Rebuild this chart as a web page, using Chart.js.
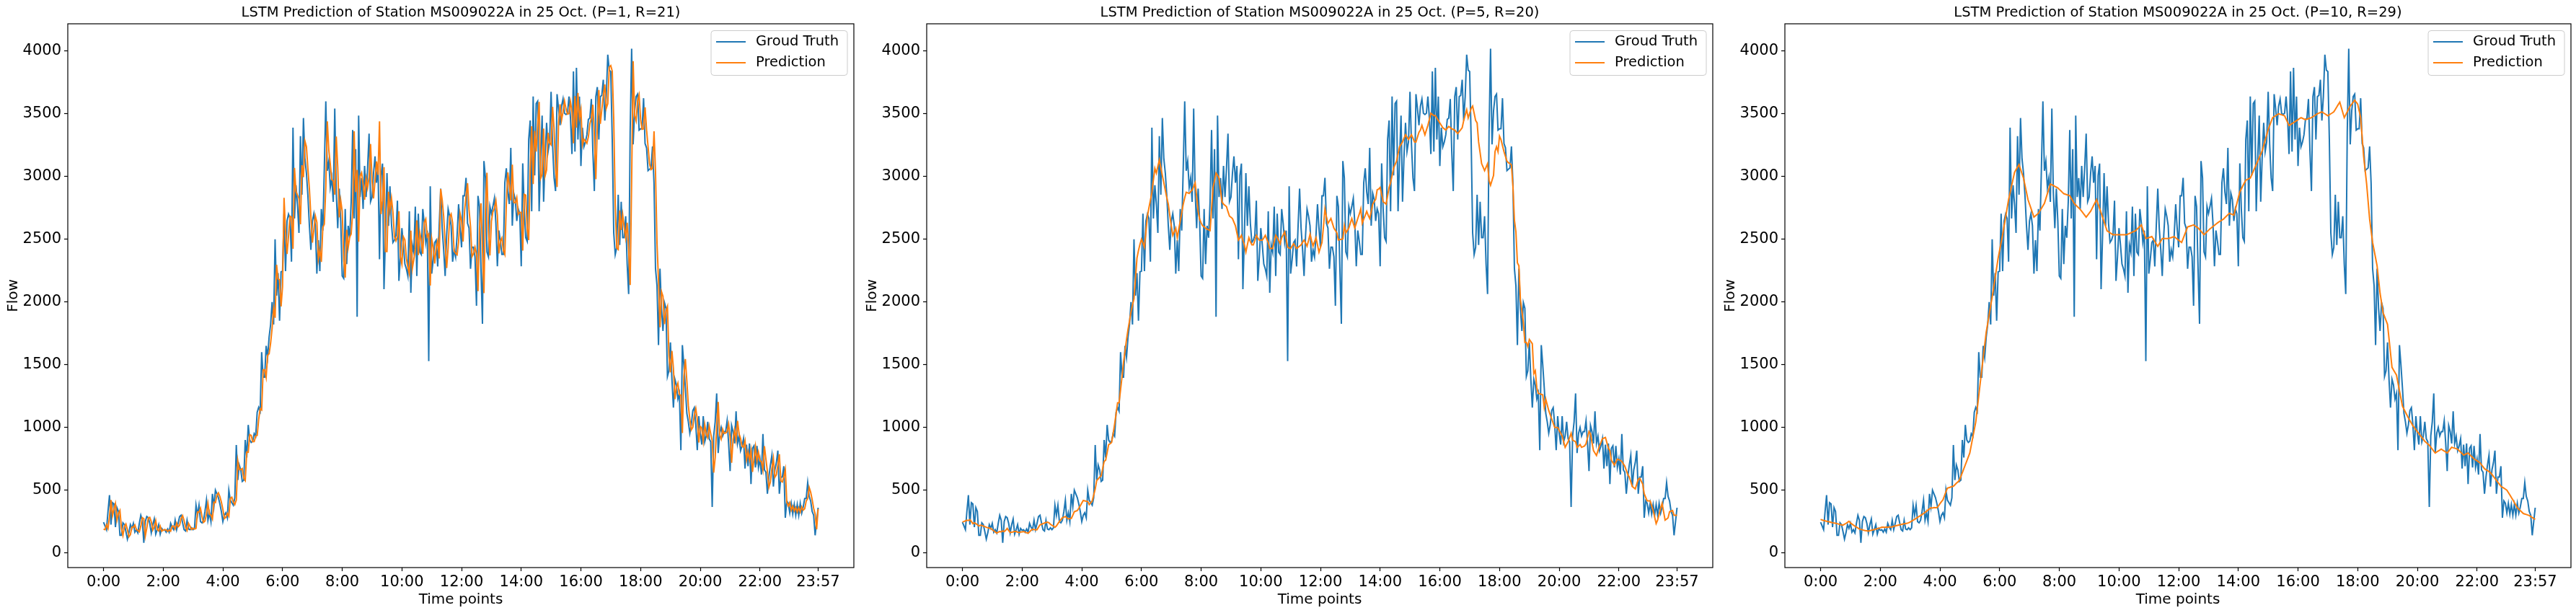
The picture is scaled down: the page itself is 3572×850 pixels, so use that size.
<!DOCTYPE html>
<html>
<head>
<meta charset="utf-8">
<script src="https://cdn.jsdelivr.net/npm/chart.js@4.4.1/dist/chart.umd.min.js"></script>
<style>
  body { margin: 0; background: #fff; }
  .panel { position: absolute; top: 0; width: 1191px; height: 850px; }
</style>
</head>
<body>
<div class="panel" style="left:0px"><canvas id="c1" width="1191" height="850"></canvas></div>
<div class="panel" style="left:1191px"><canvas id="c2" width="1191" height="850"></canvas></div>
<div class="panel" style="left:2381px"><canvas id="c3" width="1191" height="850"></canvas></div>
<script>
// flow every 3 minutes, 0:00 .. 23:57 (480 points)
const groundTruth = [
  245,215,185,330,460,225,400,390,205,360, 330,140,140,240,225,170,110,160,225,195,
  235,165,185,160,235,300,260,80,250,290, 280,235,160,225,270,150,185,225,150,195,
  180,185,165,190,165,235,205,185,260,185, 235,290,300,240,185,175,260,190,185,200,
  185,200,380,300,380,250,240,260,330,420, 260,320,250,470,370,500,470,440,390,330,
  250,300,320,280,500,420,400,380,440,860, 580,700,660,570,580,900,760,1020,900,880,
  890,950,930,1120,1160,1130,1600,1400,1400,1650, 1560,1720,1820,2000,1820,2500,2050,2230,1850,2240,
  2245,2703,2245,2645,2700,2665,2321,3389,2665,2931, 2779,2550,3322,2855,3466,3141,3027,2846,2607,2416,
  2645,2703,2607,2226,2493,2245,2741,2569,3065,3599, 3046,3122,2912,2988,2798,3542,2874,2588,2903,2645,
  2207,2188,2741,2302,2607,2512,2798,3370,2665,3218, 1882,3485,2836,2988,2741,3084,2836,3065,3342,2800,
  2836,3027,3160,2950,3084,2340,3008,3103,2102,2531, 3027,2607,2922,2626,2474,2493,2531,2807,2168,2359,
  2588,2455,2302,2264,2207,2722,2073,2455,2397,2760, 2207,2703,2397,2378,2741,2626,2474,2569,1529,2922,
  2226,2340,2474,2493,2283,2607,2903,2588,2417,2207, 2531,2741,2684,2607,2321,2417,2359,2531,2779,2588,
  2436,2846,2846,2990,2627,2589,2265,2436,2436,2360, 1969,2846,2761,2265,1826,3123,2990,2398,2360,2761,
  2703,2761,2827,2627,2284,2570,2484,2379,2379,2951, 3066,2875,2780,3228,2608,2866,2818,2646,2742,2703,
  2284,3104,2742,2513,2484,3295,3447,2722,3638,3009, 3581,3600,2722,3142,3485,2799,3161,3428,3199,3276,
  3675,3256,2989,2884,3656,3542,3408,3561,3618,3504, 3494,3504,3637,3466,3179,3837,3198,3866,3294,3637,
  3084,3389,3237,3275,3332,3456,3466,3618,3198,2884, 3637,3713,3294,3637,3647,3771,3446,3637,3971,3847,
  3837,3294,2550,2378,2435,2855,2454,2798,2512,2512, 2683,2302,2063,3351,4019,3256,3523,3637,3656,3370,
  3380,3380,3624,3262,3228,3047,3058,3069,3239,2945, 2266,2130,1656,2266,1950,1769,1995,1950,1407,1452,
  1678,1384,1158,1384,1339,1226,1271,819,1656,1497, 1316,1113,1045,954,1022,1135,1158,1022,819,1090,
  954,864,1090,886,932,1045,909,886,366,932, 1045,1271,796,954,1000,932,966,966,1053,872,
  652,1015,967,872,1129,872,929,815,853,910, 672,862,691,872,548,834,853,681,853,681,
  748,624,948,662,643,471,605,700,777,529, 662,719,815,471,605,605,691,280,414,395,
  318,395,309,385,300,385,300,395,318,366, 433,433,560,450,414,330,300,140,250,360
];

const predictionP1 = [
  190,185,224,194,287,421,296,348,393,261, 314,339,197,140,210,230,187,128,145,206,
  204,223,186,179,168,213,281,272,134,199, 278,283,249,183,206,257,186,175,213,173,
  182,185,184,171,183,173,214,214,191,238, 208,220,274,297,258,202,178,235,211,187,
  196,190,196,326,324,356,289,243,254,309, 393,308,302,271,404,400,461,479,449,405,
  348,274,285,314,292,434,444,406,386,422, 734,664,664,672,597,577,804,802,942,936,
  886,887,932,936,1063,1148,1139,1459,1460,1400, 1575,1587,1672,1790,1946,1874,2296,2185,2176,1964,
  2123,2830,2566,2382,2525,2684,2676,2424,3069,2882, 2851,2825,2619,3090,2995,3283,3239,3061,2900,2679,
  2473,2576,2686,2636,2340,2413,2319,2592,2621,2916, 3439,3212,3099,2975,2965,2855,3319,3074,2674,2809,
  2722,2338,2194,2575,2434,2516,2541,2712,3360,2877, 3052,2480,3004,3031,2942,2815,2981,2910,2996,3259,
  2963,2825,2970,3120,3013,3440,2700,2808,3075,2402, 2402,2878,2733,2828,2715,2520,2487,2520,2724,2360,
  2302,2519,2495,2348,2275,2224,2568,2268,2340,2414, 2651,2373,2554,2489,2384,2632,2661,2520,2541,2130,
  2504,2435,2306,2434,2487,2346,2900,2814,2683,2468, 2270,2434,2678,2701,2630,2407,2388,2376,2479,2705,
  2645,2482,2723,2846,2947,2736,2600,2362,2385,2436, 2383,2086,2583,2787,2414,2070,2734,3030,2576,2371,
  2641,2720,2744,2807,2687,2387,2484,2510,2411,2379, 2779,3032,2932,2809,3094,2794,2789,2832,2698,2713,
  2715,2410,2858,2851,2582,2493,3052,3401,2940,3363, 3198,3409,3594,2985,3016,3382,3005,3052,3348,3268,
  3253,3555,3382,3069,2916,3424,3576,3448,3515,3601, 3538,3497,3501,3597,3517,3265,3640,3390,3666,3466,
  3534,3250,3298,3283,3264,3315,3419,3463,3572,3324, 2978,3411,3690,3420,3534,3644,3734,3544,3580,3871,
  3884,3840,3457,2773,2430,2418,2729,2574,2695,2598, 2512,2632,2416,2135,2965,3920,3485,3443,3603,3650,
  3456,3377,3380,3551,3371,3238,3101,3055,3066,3360, 3033,2470,2171,1798,2083,2045,1823,1927,1964,1570,
  1439,1610,1472,1226,1316,1353,1260,1258,955,1405, 1545,1370,1174,1065,981,1002,1101,1151,1063,880,
  1009,995,891,1022,947,918,1011,950,893,640, 762,1011,1203,939,907,986,952,956,966,1027,
  926,718,906,981,901,1052,949,912,849,842, 893,743,805,742,818,645,748,847,733,801,
  733,728,661,851,748,649,523,565,672,754, 603,622,702,786,574,565,605,665,403,374,
  401,341,372,335,362,326,360,326,367,341, 352,413,433,522,483,425,355,309,188,350
];

const predictionP5 = [
  246,250,255,261,258,265,250,233,240,233, 225,214,220,218,214,210,204,200,198,195,
  185,176,168,157,165,170,168,175,170,180, 195,178,162,165,168,172,170,165,162,166,
  168,170,165,160,157,168,180,189,186,184, 185,205,223,228,233,238,242,245,240,228,
  220,214,204,215,233,250,265,280,285,290, 280,271,274,275,300,328,333,337,356,376,
  398,418,415,412,410,385,400,414,460,509, 576,590,605,614,671,729,738,800,862,870,
  881,950,1024,1110,1196,1196,1300,1406,1520,1610, 1702,1780,1850,1921,1975,2026,2190,2350,2410,2460,
  2500,2470,2436,2560,2684,2750,2810,2874,2970,3065, 3027,3080,3132,3070,3008,2950,2890,2830,2779,2690,
  2607,2531,2560,2588,2512,2580,2645,2710,2779,2830, 2874,2870,2865,2880,2893,2920,2950,2840,2722,2660,
  2630,2607,2600,2588,2580,2575,2569,2740,2912,2970, 3027,3010,2988,2890,2798,2780,2770,2760,2720,2684,
  2675,2665,2636,2607,2550,2493,2510,2531,2490,2455, 2397,2455,2512,2480,2455,2455,2490,2531,2510,2493,
  2493,2493,2510,2531,2500,2474,2426,2426,2426,2480, 2531,2512,2490,2464,2512,2535,2559,2500,2436,2430,
  2426,2445,2464,2445,2426,2435,2445,2455,2475,2493, 2470,2445,2490,2541,2490,2445,2480,2512,2455,2397,
  2435,2474,2600,2741,2680,2627,2645,2665,2627,2589, 2570,2551,2494,2497,2500,2503,2608,2551,2570,2589,
  2627,2665,2627,2589,2627,2665,2700,2742,2627,2660, 2690,2722,2690,2665,2720,2780,2800,2818,2894,2900,
  2913,2856,2799,2790,2780,2846,2913,2951,3008,3066, 3095,3123,3180,3237,3256,3276,3305,3333,3314,3295,
  3314,3333,3305,3276,3275,3314,3352,3370,3408,3370, 3332,3370,3408,3456,3504,3494,3485,3485,3465,3446,
  3427,3408,3389,3380,3370,3385,3399,3390,3380,3375, 3370,3356,3342,3358,3373,3389,3446,3490,3532,3466,
  3504,3542,3561,3504,3446,3427,3275,3190,3103,3075, 3046,3074,3103,2970,2931,2970,3008,3198,3237,3198,
  3322,3294,3246,3198,3160,3122,3110,3103,3092,2922, 2651,2560,2312,2289,2017,1930,1837,1678,1678,1644,
  1701,1684,1667,1429,1452,1316,1271,1268,1264,1260, 1158,1226,1180,1135,1100,1067,1034,1000,1000,1000,
  977,954,932,886,841,864,886,920,954,898, 892,886,841,852,864,841,846,852,870,918,
  967,948,880,815,795,776,815,853,880,910, 915,920,877,834,815,738,720,700,724,748,
  743,738,729,710,691,657,624,605,567,529, 520,510,548,586,595,571,548,471,442,414,
  414,414,376,338,285,233,261,309,357,395, 328,261,270,280,328,333,338,300,300,300
];

const predictionP10 = [
  267,262,258,255,252,250,247,244,240,238, 236,233,230,226,223,221,228,235,243,252,
  240,230,221,213,205,198,190,187,184,180, 177,176,174,177,180,183,186,190,193,196,
  200,205,205,203,206,204,207,205,208,212, 215,218,221,224,226,229,232,234,236,240,
  246,253,260,267,275,283,291,298,306,314, 323,332,342,351,360,358,361,360,360,375,
  392,408,423,455,488,516,520,524,528,531, 543,555,566,578,609,640,671,702,733,765,
  796,858,920,982,1044,1148,1251,1355,1456,1557, 1658,1759,1829,1899,1969,2039,2117,2195,2272,2350,
  2412,2474,2536,2606,2676,2746,2816,2870,2925,2979, 3033,3054,3074,3095,3059,3023,2987,2930,2873,2816,
  2781,2746,2711,2676,2686,2697,2707,2727,2746,2766, 2785,2824,2863,2901,2940,2934,2928,2921,2915,2909,
  2897,2886,2874,2863,2859,2855,2851,2847,2826,2806, 2785,2773,2761,2750,2738,2723,2707,2692,2676,2692,
  2707,2723,2746,2770,2793,2816,2781,2746,2711,2676, 2640,2603,2567,2559,2551,2544,2536,2536,2536,2536,
  2536,2536,2536,2536,2536,2536,2541,2546,2551,2557, 2562,2567,2579,2590,2602,2614,2578,2541,2505,2509,
  2513,2517,2521,2502,2482,2463,2443,2464,2484,2505, 2505,2505,2505,2505,2509,2513,2517,2521,2511,2502,
  2493,2483,2474,2505,2536,2567,2598,2602,2606,2610, 2614,2606,2598,2590,2577,2563,2550,2536,2548,2560,
  2571,2583,2592,2602,2611,2621,2630,2638,2645,2653, 2660,2672,2684,2695,2707,2702,2697,2692,2739,2785,
  2832,2878,2901,2925,2948,2971,2976,2982,2987,3014, 3041,3068,3095,3122,3150,3177,3204,3247,3290,3332,
  3375,3406,3438,3469,3477,3484,3492,3500,3496,3492, 3488,3484,3458,3432,3406,3414,3422,3429,3437,3445,
  3453,3461,3469,3464,3458,3453,3457,3461,3465,3469, 3477,3484,3492,3500,3505,3510,3515,3507,3500,3492,
  3484,3492,3500,3507,3515,3535,3554,3574,3593,3552, 3510,3469,3492,3516,3539,3562,3577,3593,3608,3592,
  3577,3523,3469,3314,3158,3049,2940,2800,2660,2567, 2474,2412,2350,2288,2179,2070,1993,1915,1884,1852,
  1821,1707,1593,1479,1458,1438,1417,1355,1293,1231, 1169,1146,1122,1099,1075,1054,1034,1013,997,982,
  966,951,936,920,905,889,879,868,858,842, 827,811,796,804,812,819,827,819,812,804,
  796,811,827,842,838,835,831,827,815,803, 792,780,785,791,796,784,772,761,749,741,
  734,726,718,702,687,671,663,656,648,640, 625,609,594,578,562,547,531,523,516,508,
  500,481,462,442,423,402,381,360,349,337, 326,314,310,306,302,298,290,282,275,267
];

const timeTickIndex = [0, 40, 80, 120, 160, 200, 240, 280, 320, 360, 400, 440, 479];
const timeTickLabels = ['0:00', '2:00', '4:00', '6:00', '8:00', '10:00', '12:00', '14:00', '16:00', '18:00', '20:00', '22:00', '23:57'];
const flowTicks = [0, 500, 1000, 1500, 2000, 2500, 3000, 3500, 4000];
const seriesNames = ['Groud Truth', 'Prediction'];
const panelTitles = [
  'LSTM Prediction of Station MS009022A in 25 Oct. (P=1, R=21)',
  'LSTM Prediction of Station MS009022A in 25 Oct. (P=5, R=20)',
  'LSTM Prediction of Station MS009022A in 25 Oct. (P=10, R=29)'
];

const FONT = '"DejaVu Sans", sans-serif';

// frame, title, axis labels and legend in matplotlib style
const mplDecor = {
  id: 'mplDecor',
  afterDraw(chart, args, opts) {
    const ctx = chart.ctx;
    const a = chart.chartArea;
    const cx = (a.left + a.right) / 2;
    ctx.save();
    ctx.strokeStyle = '#000';
    ctx.lineWidth = 1.2;
    ctx.strokeRect(a.left, a.top, a.right - a.left, a.bottom - a.top);

    ctx.fillStyle = '#000';
    ctx.textAlign = 'center';
    ctx.textBaseline = 'middle';
    ctx.font = '19.5px ' + FONT;
    ctx.fillText(opts.title, cx, 18);
    ctx.font = '20px ' + FONT;
    ctx.fillText('Time points', cx, 832);
    ctx.save();
    ctx.translate(19, (a.top + a.bottom) / 2);
    ctx.rotate(-Math.PI / 2);
    ctx.fillText('Flow', 0, 0);
    ctx.restore();

    // legend
    ctx.font = '19.5px ' + FONT;
    const lw = 189, lh = 62;
    const lx = a.right - 9 - lw, ly = a.top + 9.5;
    ctx.beginPath();
    ctx.roundRect(lx, ly, lw, lh, 4);
    ctx.fillStyle = 'rgba(255,255,255,0.8)';
    ctx.fill();
    ctx.strokeStyle = '#cccccc';
    ctx.lineWidth = 1;
    ctx.stroke();
    ctx.textAlign = 'left';
    chart.data.datasets.forEach((ds, k) => {
      const y = ly + 15.5 + k * 29;
      ctx.strokeStyle = ds.borderColor;
      ctx.lineWidth = 2;
      ctx.beginPath();
      ctx.moveTo(lx + 7, y);
      ctx.lineTo(lx + 48, y);
      ctx.stroke();
      ctx.fillStyle = '#000';
      ctx.fillText(ds.label, lx + 62, y);
    });
    ctx.restore();
  }
};

function toPoints(values) {
  return values.map((v, i) => ({ x: i, y: v }));
}

function makeChart(canvasId, title, prediction) {
  const ctx = document.getElementById(canvasId).getContext('2d');
  new Chart(ctx, {
    type: 'line',
    data: {
      datasets: [{
        label: seriesNames[0],
        data: toPoints(groundTruth),
        borderColor: '#1f77b4',
        borderWidth: 2,
        pointRadius: 0,
        order: 2
      }, {
        label: seriesNames[1],
        data: toPoints(prediction),
        borderColor: '#ff7f0e',
        borderWidth: 2,
        pointRadius: 0,
        order: 1
      }]
    },
    options: {
      responsive: false,
      animation: false,
      devicePixelRatio: 1,
      layout: { padding: { left: 0, right: 7, top: 33, bottom: 0 } },
      plugins: {
        legend: { display: false },
        tooltip: { enabled: false },
        mplDecor: { title: title }
      },
      scales: {
        x: {
          type: 'linear',
          min: -23.95,
          max: 502.95,
          afterBuildTicks: scale => { scale.ticks = timeTickIndex.map(v => ({ value: v })); },
          afterFit: scale => { scale.height = 63; },
          grid: { drawOnChartArea: false, drawTicks: true, tickLength: 5, tickColor: '#000', tickWidth: 1.2 },
          border: { display: false },
          ticks: {
            autoSkip: false,
            maxRotation: 0,
            padding: 3,
            color: '#000',
            font: { family: FONT, size: 21 },
            callback: value => timeTickLabels[timeTickIndex.indexOf(value)]
          }
        },
        y: {
          min: -117,
          max: 4217,
          afterBuildTicks: scale => { scale.ticks = flowTicks.map(v => ({ value: v })); },
          afterFit: scale => { scale.width = 94; },
          grid: { drawOnChartArea: false, drawTicks: true, tickLength: 5, tickColor: '#000', tickWidth: 1.2 },
          border: { display: false },
          ticks: {
            padding: 4,
            color: '#000',
            font: { family: FONT, size: 21 },
            callback: value => String(value)
          }
        }
      }
    },
    plugins: [mplDecor]
  });
}

makeChart('c1', panelTitles[0], predictionP1);
makeChart('c2', panelTitles[1], predictionP5);
makeChart('c3', panelTitles[2], predictionP10);
</script>
</body>
</html>
